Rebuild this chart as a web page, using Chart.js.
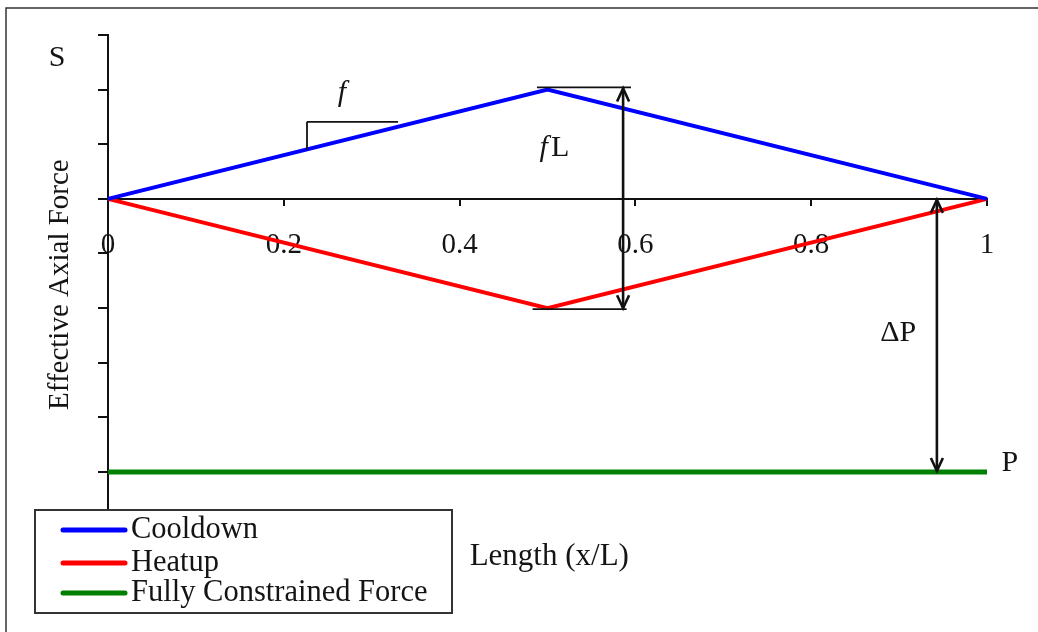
<!DOCTYPE html>
<html>
<head>
<meta charset="utf-8">
<title>Effective Axial Force along the Length</title>
<script src="https://cdn.jsdelivr.net/npm/chart.js@4.4.1/dist/chart.umd.min.js"></script>
<style>
  html, body { margin: 0; padding: 0; background: #ffffff; }
  #wrap { position: relative; width: 1038px; height: 632px; }
</style>
</head>
<body>
<div id="wrap"><canvas id="chart"></canvas></div>
<script>
// Normalised position along the pipe (x/L)
const positions = [0, 0.5, 1];
// Effective axial force profiles (arbitrary units)
const cooldownForce = [0, 2, 0];
const heatupForce = [0, -2, 0];
const constrainedForce = [-5, -5, -5];
// Axis ticks
const xTickValues = [0, 0.2, 0.4, 0.6, 0.8, 1];
const xTickLabels = ['0', '0.2', '0.4', '0.6', '0.8', '1'];
const yTickValues = [-5, -4, -3, -2, -1, 0, 1, 2, 3];
// Series names and colours
const seriesNames = ['Cooldown', 'Heatup', 'Fully Constrained Force'];
const seriesColors = ['#0000ff', '#ff0000', '#008000'];

const SERIF = '"Liberation Serif", "DejaVu Serif", serif';
const INK = '#141414';

function toPoints(values) {
  return positions.map((x, i) => ({ x: x, y: values[i] }));
}

// Annotations: arrows, dimension lines and labels placed in data units
const annotations = {
  id: 'annotations',
  afterDatasetsDraw(chart) {
    const ctx = chart.ctx;
    const xs = chart.scales.x, ys = chart.scales.y;
    const X = v => xs.getPixelForValue(v);
    const Y = v => ys.getPixelForValue(v);

    ctx.save();
    ctx.strokeStyle = '#111';
    ctx.lineWidth = 1.8;
    ctx.lineCap = 'butt';

    function line(x1, y1, x2, y2) {
      ctx.beginPath();
      ctx.moveTo(X(x1), Y(y1));
      ctx.lineTo(X(x2), Y(y2));
      ctx.stroke();
    }
    function head(px, py, dir) {
      // open chevron arrowhead; dir = -1 points up, +1 points down
      ctx.beginPath();
      ctx.moveTo(px - 6, py - dir * 13);
      ctx.lineTo(px, py);
      ctx.lineTo(px + 6, py - dir * 13);
      ctx.stroke();
    }
    function doubleArrow(x, yTop, yBot) {
      ctx.lineWidth = 2.6;
      const px = X(x), p1 = Y(yTop), p2 = Y(yBot);
      ctx.beginPath();
      ctx.moveTo(px, p1 + 1);
      ctx.lineTo(px, p2 - 1);
      ctx.stroke();
      head(px, p1 + 1, -1);
      head(px, p2 - 1, 1);
      ctx.lineWidth = 1.8;
    }

    // slope triangle on the cooldown line
    line(0.2264, 4 * 0.2264, 0.2264, 1.41);
    line(0.2264, 1.41, 0.330, 1.41);

    // fL dimension lines and arrow
    line(0.488, 2.04, 0.595, 2.04);
    line(0.483, -2.02, 0.590, -2.02);
    doubleArrow(0.586, 2.04, -2.02);

    // ΔP arrow from zero to the constrained force
    doubleArrow(0.943, 0, -5);

    // text labels
    ctx.fillStyle = INK;
    ctx.font = '30px ' + SERIF;
    ctx.textBaseline = 'middle';
    ctx.textAlign = 'center';
    ctx.fillText('S', X(-0.058), Y(2.58));
    ctx.fillText('P', X(1.026), Y(-4.84));
    ctx.fillText('\u0394P', X(0.899), Y(-2.46));

    ctx.font = 'italic 30px ' + SERIF;
    ctx.fillText('f', X(0.266), Y(1.93));
    // fL: italic f followed by upright L
    ctx.textAlign = 'left';
    const fx = X(0.491);
    ctx.fillText('f', fx, Y(0.93));
    const fw = ctx.measureText('f').width;
    ctx.font = '30px ' + SERIF;
    ctx.fillText('L', fx + fw + 3, Y(0.93));

    // axis titles
    ctx.textAlign = 'center';
    ctx.font = '31px ' + SERIF;
    ctx.fillText('Length (x/L)', X(0.502), Y(-6.55));
    ctx.font = '29px ' + SERIF;
    ctx.translate(60, Y(-1.57));
    ctx.rotate(-Math.PI / 2);
    ctx.fillText('Effective Axial Force', 0, 0);
    ctx.restore();
  }
};

// Boxed legend below the plot
const boxedLegend = {
  id: 'boxedLegend',
  afterDraw(chart) {
    const ctx = chart.ctx;
    const left = 35, top = 510, right = 452, bottom = 613;
    ctx.save();
    ctx.fillStyle = '#ffffff';
    ctx.fillRect(left, top, right - left, bottom - top);
    ctx.strokeStyle = '#333';
    ctx.lineWidth = 2;
    ctx.strokeRect(left, top, right - left, bottom - top);

    const rows = [530, 563, 593];
    const baselines = [538, 571, 601];
    chart.data.datasets.forEach((ds, i) => {
      ctx.strokeStyle = ds.borderColor;
      ctx.lineWidth = 5;
      ctx.lineCap = 'round';
      ctx.beginPath();
      ctx.moveTo(63, rows[i]);
      ctx.lineTo(125, rows[i]);
      ctx.stroke();
      ctx.fillStyle = INK;
      ctx.font = '30.5px ' + SERIF;
      ctx.textAlign = 'left';
      ctx.textBaseline = 'alphabetic';
      ctx.fillText(ds.label, 131, baselines[i]);
    });
    ctx.restore();
  }
};

// Partial frame around the figure
const frame = {
  id: 'frame',
  beforeDraw(chart) {
    const ctx = chart.ctx;
    ctx.save();
    ctx.strokeStyle = '#333';
    ctx.lineWidth = 1.5;
    ctx.beginPath();
    ctx.moveTo(6, 632);
    ctx.lineTo(6, 8);
    ctx.lineTo(1038, 8);
    ctx.stroke();
    ctx.restore();
  }
};

const datasets = [cooldownForce, heatupForce, constrainedForce].map((vals, i) => ({
  label: seriesNames[i],
  data: toPoints(vals),
  borderColor: seriesColors[i],
  backgroundColor: seriesColors[i],
  borderWidth: i === 2 ? 5 : 4,
  pointRadius: 0,
  tension: 0,
  clip: false
}));

new Chart(document.getElementById('chart'), {
  type: 'line',
  data: { datasets: datasets },
  options: {
    responsive: true,
    maintainAspectRatio: false,
    animation: false,
    layout: { padding: { left: 98, right: 51, top: 35, bottom: 124 } },
    plugins: {
      legend: { display: false },
      tooltip: { enabled: false }
    },
    scales: {
      x: {
        type: 'linear',
        position: { y: 0 },
        min: 0,
        max: 1,
        afterBuildTicks: s => { s.ticks = xTickValues.map(v => ({ value: v })); },
        ticks: {
          callback: (v) => xTickLabels[xTickValues.indexOf(v)] ?? '',
          color: INK,
          font: { family: SERIF, size: 29 },
          padding: 23,
          maxRotation: 0,
          autoSkip: false
        },
        grid: { display: true, drawOnChartArea: false, drawTicks: true, tickLength: 6, color: '#111', lineWidth: 2 },
        border: { display: true, color: '#111', width: 2 }
      },
      y: {
        type: 'linear',
        min: -5.66,
        max: 3,
        afterBuildTicks: s => { s.ticks = yTickValues.map(v => ({ value: v })); },
        afterFit: s => { s.width = 10; },
        ticks: { display: false },
        grid: { display: true, drawOnChartArea: false, drawTicks: true, tickLength: 10, color: '#111', lineWidth: 2 },
        border: { display: true, color: '#111', width: 2 }
      }
    }
  },
  plugins: [frame, annotations, boxedLegend]
});
</script>
</body>
</html>
